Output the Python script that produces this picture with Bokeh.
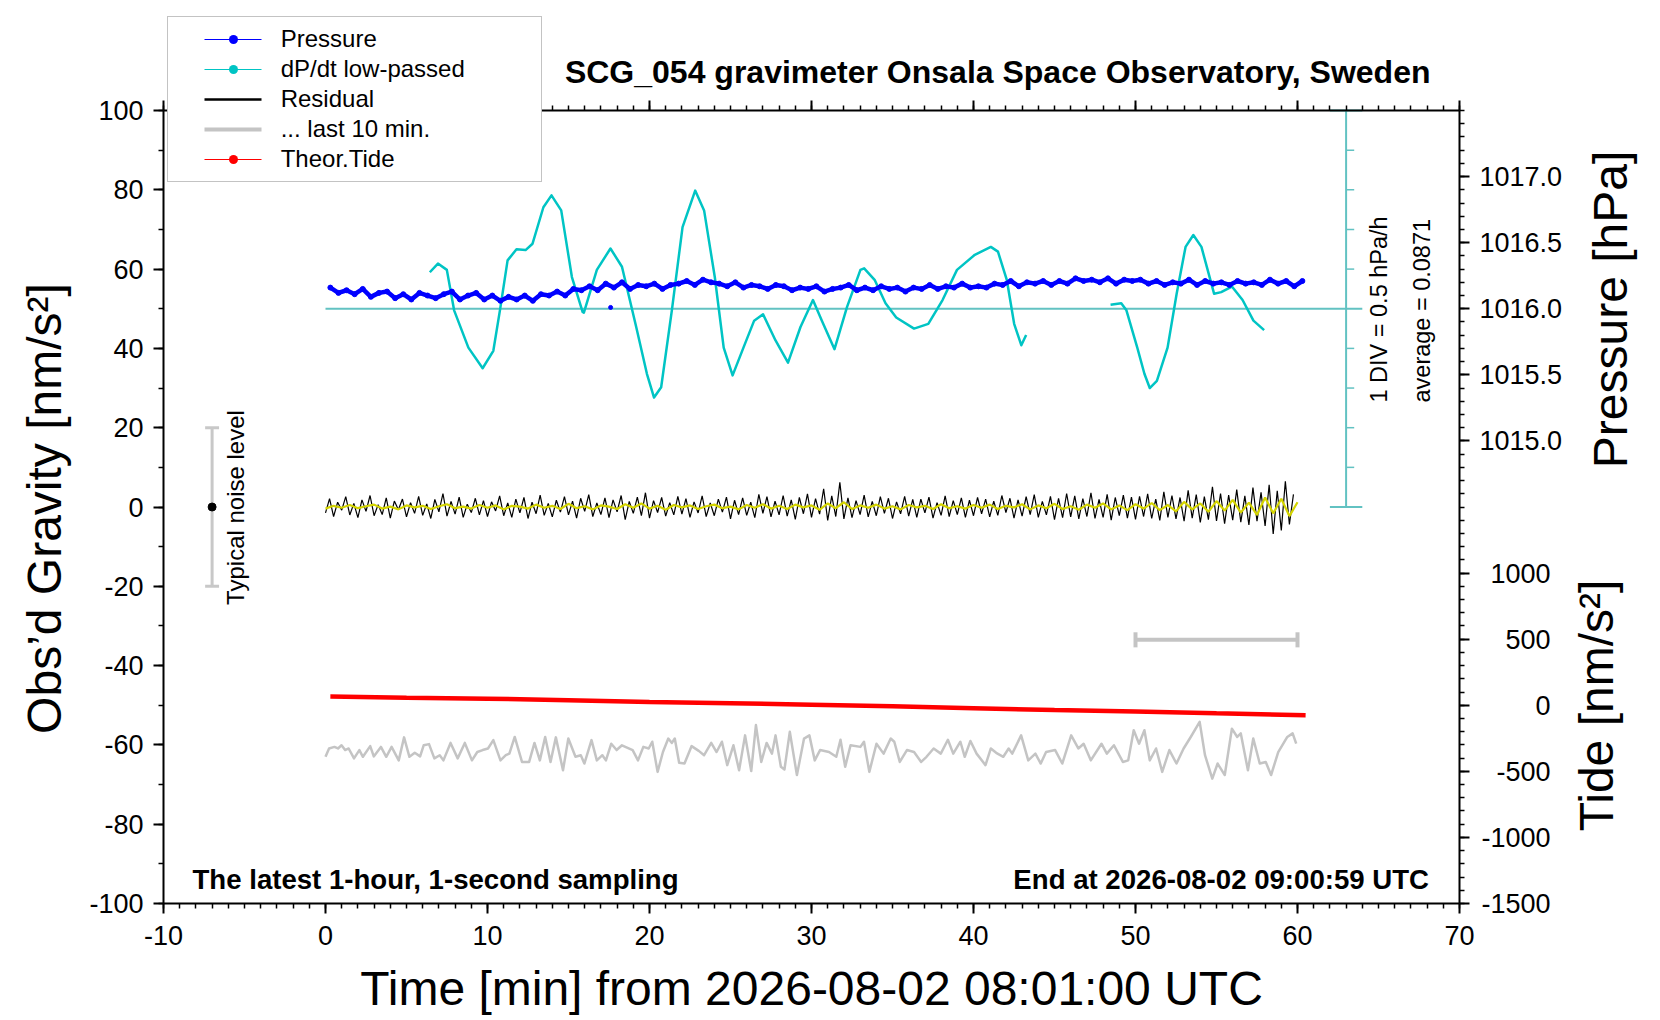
import numpy as np
from bokeh.plotting import figure
from bokeh.models import (Range1d, LinearAxis, SingleIntervalTicker, FixedTicker,
                          CustomJSTickFormatter, Label, Legend, LegendItem)
from bokeh.embed import file_html
from bokeh.resources import INLINE

FONT = "Liberation Sans"

# ---------------- data ----------------
# Pressure [hPa], sampled every 0.5 min from 0.3 min
pressure_t = np.round(0.3 + 0.5 * np.arange(121), 2)
pressure = [
    1016.16, 1016.12, 1016.14, 1016.11, 1016.15, 1016.09, 1016.12, 1016.13, 1016.08, 1016.11,
    1016.07, 1016.12, 1016.10, 1016.08, 1016.11, 1016.13, 1016.07, 1016.10, 1016.12, 1016.07,
    1016.10, 1016.06, 1016.09, 1016.07, 1016.10, 1016.06, 1016.11, 1016.10, 1016.13, 1016.10,
    1016.15, 1016.14, 1016.17, 1016.14, 1016.19, 1016.16, 1016.20, 1016.15, 1016.18, 1016.17,
    1016.19, 1016.15, 1016.18, 1016.19, 1016.21, 1016.18, 1016.22, 1016.20, 1016.19, 1016.17,
    1016.20, 1016.16, 1016.18, 1016.17, 1016.15, 1016.18, 1016.17, 1016.14, 1016.16, 1016.15,
    1016.17, 1016.13, 1016.15, 1016.16, 1016.18, 1016.14, 1016.16, 1016.14, 1016.17, 1016.15,
    1016.16, 1016.13, 1016.16, 1016.15, 1016.18, 1016.15, 1016.17, 1016.16, 1016.19, 1016.16,
    1016.17, 1016.16, 1016.19, 1016.18, 1016.21, 1016.17, 1016.20, 1016.19, 1016.21, 1016.18,
    1016.21, 1016.19, 1016.23, 1016.21, 1016.22, 1016.20, 1016.23, 1016.19, 1016.22, 1016.21,
    1016.22, 1016.19, 1016.21, 1016.18, 1016.20, 1016.19, 1016.22, 1016.18, 1016.21, 1016.19,
    1016.20, 1016.18, 1016.21, 1016.19, 1016.20, 1016.18, 1016.22, 1016.19, 1016.21, 1016.17,
    1016.21,
]
pressure_spike_t = [17.6]
pressure_spike = [1016.01]

# dP/dt low-passed [hPa/h], two segments
dpdt_t1 = [6.44, 6.94, 7.49, 7.94, 8.82, 9.70, 10.36, 10.80, 11.24, 11.79, 12.35, 12.78,
           13.45, 13.95, 14.55, 15.21, 15.87, 15.95, 16.75, 17.59, 18.30, 19.18, 19.84, 20.28,
           20.72, 21.38, 22.04, 22.82, 23.37, 24.03, 24.58, 25.13, 25.80, 26.46, 27.01, 27.78,
           28.55, 29.32, 30.09, 30.64, 31.42, 32.19, 33.02, 33.25, 33.91, 34.57, 35.23, 36.33,
           37.21, 38.09, 38.98, 40.08, 41.07, 41.51, 42.06, 42.51, 42.95, 43.25]
dpdt_v1 = [0.46, 0.57, 0.49, -0.02, -0.49, -0.75, -0.53, 0.02, 0.61, 0.75, 0.74, 0.82,
           1.28, 1.43, 1.24, 0.40, -0.04, -0.05, 0.49, 0.76, 0.53, -0.23, -0.82, -1.12,
           -0.99, -0.02, 1.03, 1.49, 1.24, 0.40, -0.49, -0.84, -0.49, -0.15, -0.07, -0.40,
           -0.68, -0.23, 0.11, -0.15, -0.51, 0.02, 0.49, 0.51, 0.36, 0.07, -0.11, -0.25,
           -0.19, 0.11, 0.49, 0.68, 0.78, 0.72, 0.36, -0.19, -0.46, -0.33]
dpdt_t2 = [48.46, 49.12, 49.44, 50.11, 50.55, 50.88, 51.32, 51.98, 52.54, 53.09, 53.57,
           54.07, 54.52, 54.85, 55.29, 55.95, 56.61, 57.28, 57.94]
dpdt_v2 = [0.05, 0.07, -0.02, -0.49, -0.82, -1.00, -0.91, -0.49, 0.19, 0.78, 0.93,
           0.78, 0.44, 0.19, 0.21, 0.28, 0.11, -0.15, -0.27]
dpdt_average = 0.0871
dpdt_div = 0.5

# Residual [nm/s^2], every 0.25 min
residual_t = np.arange(0, 60, 0.25)
residual = [
    -1.5, 2.1, -2.4, 1.2, -0.8, 2.6, -2.0, 0.9, -2.7, 1.8, -1.1, 2.9, -2.2, 0.6, -1.9, 2.3, -2.8, 1.5, -0.7, 2.0,
    -2.5, 1.1, -1.6, 2.7, -2.1, 0.8, -2.9, 1.9, -1.2, 3.4, -2.3, 1.4, -1.8, 2.5, -2.6, 0.7, -1.4, 2.2, -2.0, 1.6,
    -2.4, 1.3, -1.0, 2.8, -2.2, 1.0, -2.6, 2.0, -1.5, 2.4, -2.9, 1.2, -1.7, 3.0, -2.1, 0.9, -2.5, 1.7, -1.3, 2.6,
    -2.0, 1.5, -2.8, 2.2, -1.1, 3.1, -2.4, 1.0, -1.9, 2.3, -2.7, 1.8, -1.2, 2.9, -3.2, 1.4, -1.6, 2.5, -2.2, 3.6,
    -2.8, 1.6, -1.4, 2.4, -2.3, 1.1, -2.0, 2.7, -1.8, 2.1, -2.6, 1.3, -1.5, 2.8, -2.4, 1.0, -2.2, 2.0, -1.3, 2.5,
    -3.0, 1.7, -1.9, 2.3, -2.1, 1.2, -2.7, 3.2, -1.6, 2.6, -2.5, 1.5, -2.0, 2.9, -2.3, 1.8, -3.1, 2.4, -1.7, 3.3,
    -2.6, 2.1, -1.8, 4.6, -3.4, 2.8, -2.4, 6.2, -3.0, 2.3, -2.7, 1.6, -1.9, 3.0, -2.5, 1.4, -2.2, 2.6, -1.6, 2.2,
    -2.9, 1.3, -1.7, 2.7, -2.3, 1.9, -2.6, 2.0, -1.5, 2.5, -2.8, 1.1, -2.1, 2.8, -2.4, 1.6, -1.9, 2.3, -2.6, 1.7,
    -2.2, 2.4, -1.7, 2.0, -2.5, 1.5, -2.1, 2.9, -1.4, 2.2, -2.8, 1.8, -2.3, 2.6, -1.9, 3.1, -2.6, 1.4, -2.0, 2.7,
    -3.2, 2.2, -2.7, 3.4, -2.5, 2.8, -3.0, 2.1, -2.4, 3.6, -2.9, 1.9, -2.6, 3.2, -3.3, 2.4, -2.2, 3.0, -2.8, 2.5,
    -3.1, 2.7, -2.4, 3.3, -2.9, 2.0, -3.4, 3.8, -2.6, 2.9, -3.0, 2.4, -3.6, 4.2, -2.8, 3.1, -3.9, 2.6, -3.2, 5.1,
    -3.5, 3.4, -4.2, 3.0, -3.3, 4.4, -3.8, 2.8, -4.5, 4.9, -3.6, 3.7, -4.8, 5.6, -6.8, 4.1, -5.9, 6.5, -4.4, 3.2,
]
# Smoothed residual (yellow), every 0.5 min
smooth_t = np.arange(0, 60.5, 0.5)
smooth = [
    -0.4, 0.3, -0.2, 0.5, -0.3, 0.2, 0.6, -0.4, 0.1, -0.6, 0.4, -0.1, 0.3, -0.5, 0.2, 0.7, -0.3, 0.1, -0.4, 0.5,
    -0.2, 0.4, -0.6, 0.3, 0.1, -0.4, 0.6, -0.2, 0.3, -0.5, 0.8, -0.3, 0.2, -0.6, 0.4, 0.1, -0.5, 0.7, -0.2, 0.9,
    -0.4, 0.3, -0.7, 0.5, -0.1, 0.4, -0.5, 0.2, 0.6, -0.3, 0.1, -0.6, 0.5, -0.2, 0.7, -0.4, 0.3, -0.5, 0.6, -0.1,
    0.4, -0.7, 0.9, -0.3, 1.2, -0.5, 0.4, -0.2, 0.6, -0.4, 0.2, -0.6, 0.5, -0.1, 0.3, -0.5, 0.7, -0.3, 0.2, -0.4,
    0.5, -0.2, 0.6, -0.5, 0.3, -0.1, 0.7, -0.6, 0.4, -0.3, 0.8, -0.5, 0.2, -0.7, 0.6, -0.2, 0.9, -0.6, 0.4, -0.8,
    0.7, -0.4, 1.0, -0.8, 0.5, -1.1, 1.3, -0.6, 0.9, -1.2, 1.5, -0.9, 1.8, -1.4, 1.1, -2.0, 2.4, -1.6, 2.1, -2.3,
    1.2,
]

# "... last 10 min." trace (stretched over the hour), plotted around -60 nm/s^2
last10_t = [0.00, 0.22, 0.55, 0.77, 0.99, 1.21, 1.43, 1.76, 2.09, 2.31, 2.76, 2.98, 3.42, 3.75, 4.08, 4.52,
            4.85, 5.18, 5.51, 5.84, 6.06, 6.39, 6.72, 7.05, 7.28, 7.72, 8.16, 8.60, 9.04, 9.37, 9.70, 10.03,
            10.36, 10.80, 11.13, 11.35, 11.68, 12.13, 12.57, 12.90, 13.23, 13.56, 13.89, 14.22, 14.66, 14.99,
            15.43, 15.76, 15.98, 16.42, 16.75, 17.09, 17.31, 17.64, 17.97, 18.30, 18.96, 19.29, 19.62, 19.95,
            20.17, 20.50, 20.83, 21.16, 21.38, 21.56, 21.83, 22.16, 22.60, 23.04, 23.37, 23.81, 24.14, 24.47,
            24.80, 25.18, 25.53, 25.90, 26.28, 26.57, 26.90, 27.23, 27.56, 27.78, 28.11, 28.33, 28.66, 29.10,
            29.54, 29.87, 30.20, 30.53, 31.08, 31.53, 31.79, 32.08, 32.41, 33.02, 33.24, 33.57, 34.01, 34.45,
            34.89, 35.11, 35.45, 35.89, 36.33, 36.77, 37.10, 37.54, 37.98, 38.42, 38.75, 39.19, 39.46, 39.81,
            40.19, 40.74, 41.07, 41.40, 41.84, 42.17, 42.39, 42.94, 43.38, 43.82, 44.15, 44.48, 45.04, 45.48,
            46.03, 46.47, 46.80, 47.24, 47.90, 48.23, 48.67, 49.22, 49.55, 49.89, 50.22, 50.55, 50.88, 51.27,
            51.65, 52.09, 52.53, 52.97, 53.41, 53.96, 54.29, 54.74, 55.07, 55.51, 55.95, 56.28, 56.50, 56.94,
            57.27, 57.67, 58.04, 58.37, 58.81, 59.37, 59.70, 59.92]
last10 = [-63.0, -60.9, -60.5, -60.9, -60.1, -61.3, -60.9, -63.4, -61.3, -63.0, -60.3, -62.9, -60.5, -63.0, -60.5, -63.9,
          -58.1, -63.0, -62.0, -62.9, -60.1, -59.8, -63.4, -62.6, -63.9, -59.5, -63.4, -59.5, -63.9, -61.8, -61.3, -60.9,
          -58.8, -63.9, -62.6, -62.2, -58.0, -64.3, -64.3, -59.5, -63.9, -58.0, -64.3, -58.1, -66.4, -58.4,
          -63.0, -62.6, -64.7, -58.8, -63.9, -62.6, -63.9, -59.7, -61.3, -60.1, -61.3, -63.9, -60.5, -60.9,
          -59.2, -66.8, -61.8, -58.4, -59.5, -58.4, -64.5, -64.7, -60.3, -61.5, -62.6, -59.5, -61.8, -59.2,
          -65.1, -60.1, -66.4, -57.6, -66.6, -55.0, -64.3, -59.5, -62.2, -57.6, -65.5, -66.2, -56.7, -67.6,
          -58.4, -57.6, -63.9, -61.3, -61.8, -63.0, -58.7, -65.5, -60.1, -60.5, -59.2, -66.8, -59.7, -62.2,
          -58.4, -59.2, -64.3, -61.3, -61.8, -64.3, -63.0, -60.9, -62.2, -58.7, -62.2, -59.2, -63.0, -59.0,
          -62.2, -65.1, -60.9, -62.0, -63.0, -60.9, -62.2, -57.6, -63.9, -62.2, -64.7, -61.8, -61.3, -64.7,
          -57.6, -60.9, -59.7, -63.9, -59.7, -62.2, -60.1, -64.3, -63.9, -56.3, -59.7, -56.3, -63.9, -60.9,
          -66.8, -61.3, -64.7, -60.9, -58.0, -54.2, -62.6, -68.5, -64.7, -67.6, -55.9, -58.0, -57.1, -66.4,
          -58.4, -64.7, -64.3, -67.6, -61.8, -58.0, -57.1, -59.7]

# Theoretical tide [nm/s^2]
tide_t = [0.3, 5, 10, 15, 20, 25, 30, 35, 40, 45, 50, 55, 60.5]
tide = [66, 57, 50, 38, 25, 15, 4, -8, -22, -36, -48, -61, -75]

# decorations
noise_level = 20          # nm/s^2, "typical noise level"
noise_x = -7
scale_bar_t = [50, 60]    # 10-minute span
scale_bar_y = -33.5
dpdt_axis_x = 63

x_bounds = (-10, 70)
g_bounds = (-100, 100)
pressure_ticks = [1015.0, 1015.5, 1016.0, 1016.5, 1017.0]
tide_ticks = [-1500, -1000, -500, 0, 500, 1000]

BLUE = "#0000ff"
TEAL = "#00c4c4"
TEAL_AX = "#62c2c2"
RED = "#ff0000"
GREY = "#c4c4c4"
YELLOW = "#d4d400"

# ---------------- page geometry (pixels) ----------------
W, H = 1660, 1020
PX_L, PX_R, PX_T, PX_B = 163, 1459, 110, 903   # where the plot box sits on the page


def xd(px):
    return x_bounds[0] + (px - PX_L) * (x_bounds[1] - x_bounds[0]) / (PX_R - PX_L)


def yd(py):
    return g_bounds[1] - (py - PX_T) * (g_bounds[1] - g_bounds[0]) / (PX_B - PX_T)


def p_of(g):      # gravity-axis value -> pressure scale
    return 1016.0 + (g - 50) * 0.03


def v_of(g):      # gravity-axis value -> dP/dt scale (1 DIV = 10 units = 0.5 hPa/h)
    return (g - 50) / 20.0


def t_of(g):      # gravity-axis value -> tide scale
    return (g + 50) * 30.0


g_lo, g_hi = yd(H), yd(0)

p = figure(width=W, height=H, output_backend="svg", toolbar_location=None,
           x_range=Range1d(xd(0), xd(W)), y_range=Range1d(g_lo, g_hi),
           min_border=0, min_border_left=0, min_border_right=0,
           min_border_top=0, min_border_bottom=0)
p.title.visible = False
p.extra_y_ranges = {"pressure": Range1d(p_of(g_lo), p_of(g_hi)),
                    "dpdt": Range1d(v_of(g_lo), v_of(g_hi)),
                    "tide": Range1d(t_of(g_lo), t_of(g_hi))}
p.xgrid.visible = False
p.ygrid.visible = False
p.outline_line_color = None
p.background_fill_color = "white"
p.border_fill_color = "white"


def style_axis(ax):
    ax.axis_line_width = 2
    ax.axis_line_color = "black"
    ax.major_tick_line_width = 2
    ax.minor_tick_line_width = 1.5
    ax.major_tick_line_color = "black"
    ax.minor_tick_line_color = "black"
    ax.major_tick_out = 10
    ax.major_tick_in = 0
    ax.minor_tick_out = 5
    ax.minor_tick_in = 0
    ax.major_label_text_font = FONT
    ax.major_label_text_font_size = "27px"
    ax.major_label_text_color = "black"
    ax.major_label_standoff = 10


INT_FMT = "return tick.toFixed(0);"

xa = p.xaxis[0]
xa.ticker = SingleIntervalTicker(interval=10, num_minor_ticks=10)
xa.formatter = CustomJSTickFormatter(code=INT_FMT)
xa.fixed_location = g_bounds[0]
xa.bounds = x_bounds
style_axis(xa)
xa.major_label_standoff = 12

ya = p.yaxis[0]
ya.ticker = SingleIntervalTicker(interval=20, num_minor_ticks=2)
ya.formatter = CustomJSTickFormatter(code=INT_FMT)
ya.fixed_location = x_bounds[0]
ya.bounds = g_bounds
style_axis(ya)

top = LinearAxis(ticker=SingleIntervalTicker(interval=10, num_minor_ticks=10),
                 formatter=CustomJSTickFormatter(code="return '';"),
                 fixed_location=g_bounds[1], bounds=x_bounds)
style_axis(top)
p.add_layout(top, "above")

# right axis: pressure ticks (labelled) + tide ticks (tide t <-> pressure 1013 + t/1000)
right_major = [1013 + t / 1000 for t in tide_ticks] + pressure_ticks
right_minor = [round(1011.5 + 0.1 * k, 2) for k in range(61)]
right = LinearAxis(y_range_name="pressure",
                   ticker=FixedTicker(ticks=right_major, minor_ticks=right_minor),
                   formatter=CustomJSTickFormatter(code="return tick > 1014.75 ? tick.toFixed(1) : '';"),
                   fixed_location=x_bounds[1], bounds=(p_of(g_bounds[0]), p_of(g_bounds[1])))
style_axis(right)
p.add_layout(right, "right")

# ---------------- glyphs ----------------
# dP/dt axis and baseline
p.segment(x0=[0], y0=[0], x1=[dpdt_axis_x + 1], y1=[0], y_range_name="dpdt",
          line_color=TEAL_AX, line_width=2)
p.segment(x0=[dpdt_axis_x], y0=[-2.5], x1=[dpdt_axis_x], y1=[2.5], y_range_name="dpdt",
          line_color=TEAL_AX, line_width=2)
p.segment(x0=[dpdt_axis_x - 1, dpdt_axis_x - 1], y0=[-2.5, 2.5],
          x1=[dpdt_axis_x + 1, dpdt_axis_x + 1], y1=[-2.5, 2.5], y_range_name="dpdt",
          line_color=TEAL_AX, line_width=2)
div_ticks = [-2.0, -1.5, -1.0, -0.5, 0.5, 1.0, 1.5, 2.0]
p.segment(x0=[dpdt_axis_x] * len(div_ticks), y0=div_ticks,
          x1=[dpdt_axis_x + 0.5] * len(div_ticks), y1=div_ticks, y_range_name="dpdt",
          line_color=TEAL_AX, line_width=1.5)

p.line(dpdt_t1, dpdt_v1, y_range_name="dpdt", line_color=TEAL, line_width=2.5,
       line_join="round")
p.line(dpdt_t2, dpdt_v2, y_range_name="dpdt", line_color=TEAL, line_width=2.5,
       line_join="round")

# pressure
p.line(pressure_t, pressure, y_range_name="pressure", line_color=BLUE, line_width=4.5)
p.scatter(pressure_t, pressure, y_range_name="pressure", marker="circle", size=5,
          color=BLUE)
p.scatter(pressure_spike_t, pressure_spike, y_range_name="pressure", marker="circle",
          size=4, color=BLUE)

# residual + smoothed
p.line(residual_t, residual, line_color="black", line_width=1.2)
p.line(smooth_t, smooth, line_color=YELLOW, line_width=2.2)

# last 10 min trace
p.line(last10_t, last10, line_color=GREY, line_width=2.5, line_join="round")

# tide
p.line(tide_t, tide, y_range_name="tide", line_color=RED, line_width=4.5)

# typical noise level marker
p.segment(x0=[noise_x], y0=[-noise_level], x1=[noise_x], y1=[noise_level],
          line_color="#c8c8c8", line_width=3)
p.segment(x0=[noise_x - 0.43, noise_x - 0.43], y0=[-noise_level, noise_level],
          x1=[noise_x + 0.43, noise_x + 0.43], y1=[-noise_level, noise_level],
          line_color="#c8c8c8", line_width=3)
p.scatter([noise_x], [0], marker="circle", size=8, color="black")

# 10-minute scale bar
p.segment(x0=[scale_bar_t[0]], y0=[scale_bar_y], x1=[scale_bar_t[1]], y1=[scale_bar_y],
          line_color=GREY, line_width=4)
p.segment(x0=scale_bar_t, y0=[scale_bar_y - 1.9] * 2, x1=scale_bar_t, y1=[scale_bar_y + 1.9] * 2,
          line_color=GREY, line_width=4)

# ---------------- legend ----------------
# legend-only renderers: a single point far outside the view draws nothing on the plot
OFF = [-1000.0]


def leg_line(color, width):
    return p.line(OFF, OFF, line_color=color, line_width=width, line_dash="57 2000",
                  line_dash_offset=-29)


def leg_dot(color):
    return p.line(OFF, OFF, line_color=color, line_width=9, line_cap="round",
                  line_dash="0 2000", line_dash_offset=-58)


legend = Legend(items=[
    LegendItem(label="Pressure", renderers=[leg_line(BLUE, 1), leg_dot(BLUE)]),
    LegendItem(label="dP/dt low-passed", renderers=[leg_line(TEAL, 1), leg_dot(TEAL)]),
    LegendItem(label="Residual", renderers=[leg_line("black", 2.5)]),
    LegendItem(label="... last 10 min.", renderers=[leg_line(GREY, 4)]),
    LegendItem(label="Theor.Tide", renderers=[leg_line(RED, 1), leg_dot(RED)]),
], location=(166.7, H - 18.3 - 164), padding=7, spacing=0, margin=0,
    glyph_width=106, glyph_height=30, label_height=30, label_width=253, label_standoff=0,
    label_text_font=FONT, label_text_font_size="24px", label_text_color="black",
    border_line_color="#888888", border_line_width=1.5,
    background_fill_color="white", background_fill_alpha=1.0)
p.add_layout(legend)


# ---------------- texts (placed at page-pixel positions) ----------------
BASE_SHIFT = 0.35   # Bokeh draws an "alphabetic" label this much (in em) below its anchor


def lab(text, px, py, size, bold=False, vertical=False, align="left"):
    if vertical:
        px -= BASE_SHIFT * size
    else:
        py -= BASE_SHIFT * size
    p.add_layout(Label(x=xd(px), y=yd(py), text=text, text_font=FONT,
                       text_font_size=f"{size}px",
                       text_font_style="bold" if bold else "normal",
                       angle=np.pi / 2 if vertical else 0.0,
                       text_align=align, text_baseline="alphabetic", text_color="black"))


lab("SCG_054 gravimeter Onsala Space Observatory, Sweden", 1430, 82.7, 32, bold=True,
    align="right")
lab("The latest 1-hour, 1-second sampling", 192, 888.5, 27.6, bold=True)
lab("End at 2026-08-02 09:00:59 UTC", 1428.5, 888.5, 27.6, bold=True, align="right")
lab("Time [min] from 2026-08-02 08:01:00 UTC", (PX_L + PX_R) / 2, 1005, 48, align="center")
lab("Obs\u2019d Gravity [nm/s\u00b2]", 61, 508, 48, vertical=True, align="center")
lab("Pressure [hPa]", 1627, 309, 48, vertical=True, align="center")
lab("Tide [nm/s\u00b2]", 1613, 705, 48, vertical=True, align="center")
lab("Typical noise level", 243, 507, 24, vertical=True, align="center")
lab(f"1 DIV = {dpdt_div} hPa/h", 1387, 402, 23.5, vertical=True, align="left")
lab(f"average = {dpdt_average}", 1430, 402, 23.5, vertical=True, align="left")

# tide tick labels, right-aligned next to the right axis
for t in tide_ticks:
    p.add_layout(Label(x=xd(1550), y=t, y_range_name="tide", text=str(t), text_font=FONT,
                       text_font_size="27px", text_align="right", text_baseline="middle",
                       text_color="black"))

open("out.html", "w").write(file_html(p, INLINE))
